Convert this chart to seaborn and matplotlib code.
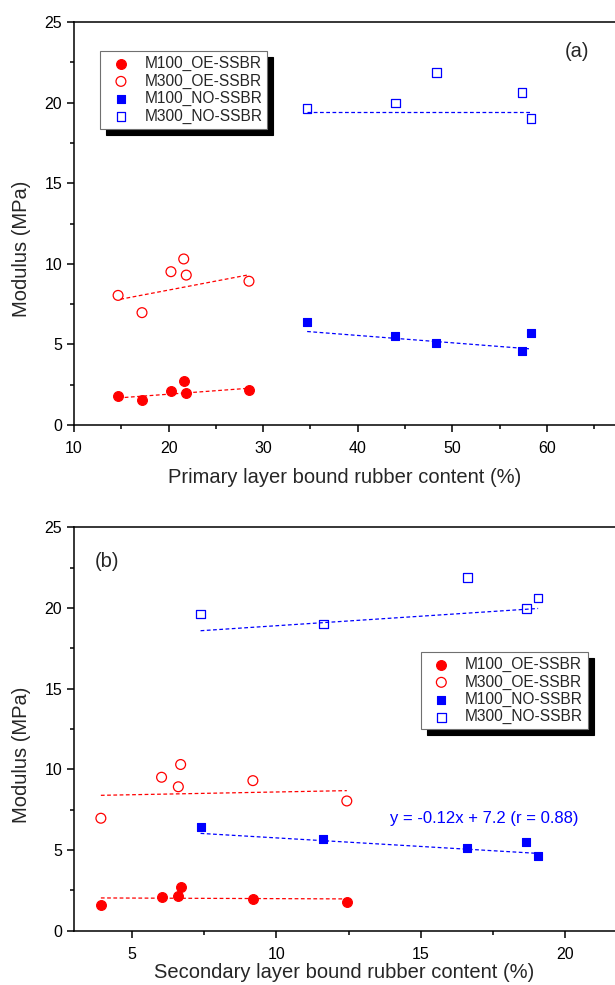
import numpy as np
import pandas as pd
import matplotlib
matplotlib.use("Agg")
import matplotlib.pyplot as plt
import seaborn as sns
from matplotlib.ticker import MultipleLocator

# ---------------- data ----------------
# OE-SSBR samples
oe_primary = [14.66, 17.19, 20.25, 21.6, 21.87, 28.5]
oe_secondary = [12.44, 3.93, 6.03, 6.69, 9.19, 6.61]
oe_m100 = [1.77, 1.57, 2.09, 2.73, 1.98, 2.17]
oe_m300 = [8.04, 6.97, 9.51, 10.3, 9.30, 8.92]
# NO-SSBR samples
no_primary = [34.65, 43.97, 48.3, 57.35, 58.3]
no_secondary = [7.38, 18.65, 16.61, 19.06, 11.63]
no_m100 = [6.40, 5.50, 5.10, 4.62, 5.71]
no_m300 = [19.62, 19.97, 21.88, 20.62, 19.01]

# trend line end points (x0, x1), (y0, y1)
trend_a = {
    "M100_OE-SSBR": ([14.7, 28.5], [1.68, 2.28]),
    "M300_OE-SSBR": ([14.9, 28.5], [7.80, 9.32]),
    "M100_NO-SSBR": ([34.65, 58.3], [5.80, 4.72]),
    "M300_NO-SSBR": ([34.65, 58.3], [19.44, 19.44]),
}
trend_b = {
    "M100_OE-SSBR": ([3.93, 12.44], [2.03, 1.97]),
    "M300_OE-SSBR": ([3.93, 12.44], [8.39, 8.68]),
    "M100_NO-SSBR": ([7.38, 19.06], [6.03, 4.79]),
    "M300_NO-SSBR": ([7.38, 19.06], [18.59, 19.97]),
}
equation_text = "y = -0.12x + 7.2 (r = 0.88)"

xlabel_a = "Primary layer bound rubber content (%)"
xlabel_b = "Secondary layer bound rubber content (%)"
ylabel = "Modulus (MPa)"

# ---------------- style ----------------
sns.set_theme(style="ticks")
plt.rcParams['font.family'] = ['Liberation Sans', 'DejaVu Sans']
plt.rcParams['axes.linewidth'] = 1.1
for k in ['xtick.major.width', 'ytick.major.width', 'xtick.minor.width', 'ytick.minor.width']:
    plt.rcParams[k] = 1.1
plt.rcParams['xtick.major.size'] = 5
plt.rcParams['ytick.major.size'] = 5
plt.rcParams['xtick.minor.size'] = 3
plt.rcParams['ytick.minor.size'] = 3
plt.rcParams['xtick.direction'] = 'out'
plt.rcParams['ytick.direction'] = 'out'

RED = "#ff0000"
BLUE = "#0000ff"
DASH = (0, (3, 2))

fig = plt.figure(figsize=(6.15, 9.85), dpi=100)
ax_a = fig.add_axes([74 / 615, 1 - 425 / 985, 1 - 74 / 615, (425 - 22) / 985])
ax_b = fig.add_axes([74 / 615, 1 - 930.7 / 985, 1 - 74 / 615, (930.7 - 527.3) / 985])


def draw(ax, x_oe, x_no, trends):
    sns.scatterplot(x=x_oe, y=oe_m100, ax=ax, marker='o', color=RED, edgecolor=RED,
                    s=50, linewidth=0.8, label="M100_OE-SSBR", zorder=3)
    sns.scatterplot(x=x_oe, y=oe_m300, ax=ax, marker='o', facecolor='none', edgecolor=RED,
                    s=50, linewidth=0.9, label="M300_OE-SSBR", zorder=3)
    sns.scatterplot(x=x_no, y=no_m100, ax=ax, marker='s', color=BLUE, edgecolor=BLUE,
                    s=38, linewidth=0.8, label="M100_NO-SSBR", zorder=3)
    sns.scatterplot(x=x_no, y=no_m300, ax=ax, marker='s', facecolor='none', edgecolor=BLUE,
                    s=38, linewidth=0.9, label="M300_NO-SSBR", zorder=3)
    for name, (xs, ys) in trends.items():
        c = RED if "OE" in name else BLUE
        sns.lineplot(x=xs, y=ys, ax=ax, color=c, linewidth=0.9, linestyle=DASH,
                     estimator=None, legend=False, zorder=2)
    ax.set_ylim(0, 25)
    ax.yaxis.set_major_locator(MultipleLocator(5))
    ax.yaxis.set_minor_locator(MultipleLocator(2.5))
    ax.spines['right'].set_visible(False)
    ax.tick_params(axis='both', which='both', top=False, right=False, labelsize=11.5, colors='black')
    ax.tick_params(axis='x', which='major', pad=6.5)
    ax.set_ylabel(ylabel, fontsize=14.5)
    ax.yaxis.set_label_coords(-0.079, 0.437)
    for sp in ax.spines.values():
        sp.set_color('black')


draw(ax_a, oe_primary, no_primary, trend_a)
draw(ax_b, oe_secondary, no_secondary, trend_b)

ax_a.set_xlim(10, 67.2)
ax_a.xaxis.set_major_locator(MultipleLocator(10))
ax_a.xaxis.set_minor_locator(MultipleLocator(5))
ax_a.set_xlabel(xlabel_a, fontsize=14.5, labelpad=9)

ax_b.set_xlim(3, 21.72)
ax_b.xaxis.set_major_locator(MultipleLocator(5))
ax_b.xaxis.set_minor_locator(MultipleLocator(2.5))
ax_b.set_xlabel(xlabel_b, fontsize=14.5, labelpad=1)

ax_a.text(63.2, 23.2, "(a)", fontsize=14.5, ha='center', va='center')
ax_b.text(4.14, 22.9, "(b)", fontsize=14.5, ha='center', va='center')
ax_b.text(13.92, 6.98, equation_text, fontsize=12, color=BLUE, ha='left', va='center')

shadow = {'ox': 4.3, 'oy': -4.3, 'facecolor': 'black', 'edgecolor': 'black', 'alpha': 1}
for ax, anchor in [(ax_a, (0.0488, 0.928)), (ax_b, (0.641, 0.691))]:
    leg = ax.legend(loc='upper left', bbox_to_anchor=anchor, borderaxespad=0,
                    fontsize=11.2, frameon=True, fancybox=False, shadow=shadow,
                    borderpad=0.32, labelspacing=0.15, handlelength=2.0,
                    handletextpad=0.5, framealpha=1)
    leg.get_frame().set_edgecolor('#707070')
    leg.get_frame().set_linewidth(0.8)

fig.savefig("out.png", dpi=100)
